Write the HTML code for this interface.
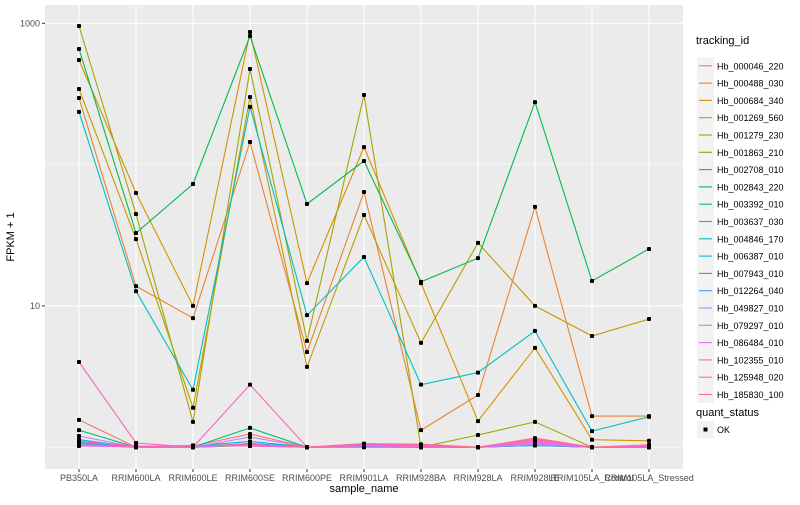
<!DOCTYPE html>
<html><head><meta charset="utf-8"><style>
body{margin:0;background:#fff;}
svg text{font-family:"Liberation Sans",sans-serif;}
</style></head><body>
<svg id="chart" width="800" height="500" xmlns="http://www.w3.org/2000/svg">
<rect x="0" y="0" width="800" height="500" fill="#fff"/>
<rect x="45" y="5" width="638" height="464" fill="#ebebeb"/>
<g id="grid"></g>
<g id="series"></g>
<g id="axes"></g>
<text x="14" y="237" font-size="11" fill="#000" text-anchor="middle" transform="rotate(-90 14 237)">FPKM + 1</text>
<text x="364" y="492" font-size="11" fill="#000" text-anchor="middle">sample_name</text>
<g id="legend"></g>
</svg>
<script>
const categories = ["PB350LA","RRIM600LA","RRIM600LE","RRIM600SE","RRIM600PE","RRIM901LA","RRIM928BA","RRIM928LA","RRIM928LE","RRIM105LA_Control","RRIM105LA_Stressed"];
const seriesNames = ["Hb_000046_220","Hb_000488_030","Hb_000684_340","Hb_001269_560","Hb_001279_230","Hb_001863_210","Hb_002708_010","Hb_002843_220","Hb_003392_010","Hb_003637_030","Hb_004846_170","Hb_006387_010","Hb_007943_010","Hb_012264_040","Hb_049827_010","Hb_079297_010","Hb_086484_010","Hb_102355_010","Hb_125948_020","Hb_185830_100"];
const seriesColors = ["#F8766D","#EA8331","#D89000","#C09B00","#A3A500","#7CAE00","#39B600","#00BB4E","#00BF7D","#00C1A3","#00BFC4","#00BAE0","#00B0F6","#35A2FF","#9590FF","#C77CFF","#E76BF3","#FA62DB","#FF62BC","#FF6C91"];
const s000046 = [1.56,1.0,1.02,1.24,1.0,1.05,1.04,1.0,1.14,1.0,1.02];
const s000488 = [296,13.8,8.2,144.5,4.72,64,1.32,2.34,50.2,1.66,1.66];
const s000684 = [550,63,10,867,14.5,133,14.5,1.53,5.05,1.13,1.11];
const s001269 = [343,29.7,1.90,301,3.70,44,5.47,27.9,10,6.12,8.07];
const s001279 = [957,44.7,1.51,475,5.65,311,1.0,1.22,1.51,1.0,1.0];
const s001863 = [1.05,1.0,1.0,1.04,1.0,1.02,1.0,1.0,1.04,1.0,1.0];
const s002708 = [1.04,1.0,1.0,1.03,1.0,1.01,1.0,1.0,1.03,1.0,1.0];
const s002843 = [658,32.8,72.9,813,52.6,106,14.8,21.8,277,15.0,25.3];
const s003392 = [1.32,1.0,1.0,1.37,1.0,1.0,1.0,1.0,1.03,1.0,1.0];
const s003637 = [1.08,1.0,1.0,1.06,1.0,1.02,1.0,1.0,1.05,1.0,1.0];
const s004846 = [236,12.7,2.55,256,8.6,22.2,2.77,3.37,6.65,1.30,1.64];
const s006387 = [1.1,1.0,1.01,1.06,1.0,1.03,1.0,1.0,1.04,1.0,1.0];
const s007943 = [1.13,1.0,1.02,1.1,1.0,1.02,1.0,1.0,1.05,1.0,1.0];
const s012264 = [1.07,1.0,1.0,1.05,1.0,1.01,1.0,1.0,1.03,1.0,1.0];
const s049827 = [1.05,1.0,1.0,1.04,1.0,1.0,1.0,1.0,1.04,1.0,1.0];
const s079297 = [1.2,1.0,1.0,1.18,1.0,1.02,1.0,1.0,1.06,1.0,1.0];
const s086484 = [1.03,1.0,1.02,1.02,1.0,1.04,1.0,1.0,1.08,1.0,1.01];
const s102355 = [1.02,1.01,1.03,1.02,1.0,1.05,1.02,1.0,1.1,1.0,1.02];
const s125948 = [4.01,1.07,1.0,2.77,1.0,1.03,1.02,1.0,1.12,1.0,1.0];
const s185830 = [1.1,1.02,1.02,1.05,1.0,1.06,1.05,1.0,1.16,1.0,1.04];
const seriesValues = [s000046,s000488,s000684,s001269,s001279,s001863,s002708,s002843,s003392,s003637,s004846,s006387,s007943,s012264,s049827,s079297,s086484,s102355,s125948,s185830];
const yTickValues = [10,1000];
const yTickLabels = ["10","1000"];
const yMinorValues = [1,100];

const NS="http://www.w3.org/2000/svg";
const PL=45,PR=683,PT=5,PB=469;
function xPos(i){return 79+57*i;}
function yPos(v){return 23.3+(3-Math.log10(v))*141.3;}
function mk(tag,attrs,parent){const e=document.createElementNS(NS,tag);for(const k in attrs)e.setAttribute(k,attrs[k]);parent.appendChild(e);return e;}
const grid=document.getElementById('grid'),ser=document.getElementById('series'),ax=document.getElementById('axes'),leg=document.getElementById('legend');
yMinorValues.forEach(v=>{const l=mk('line',{x1:PL,x2:PR,y1:yPos(v),y2:yPos(v),stroke:'#fff','stroke-width':0.5},grid);

});
yTickValues.forEach((v,i)=>{const y=yPos(v);
const l=mk('line',{x1:PL,x2:PR,y1:y,y2:y,stroke:'#fff','stroke-width':1.1},grid);


const t=mk('line',{x1:42,x2:45,y1:y,y2:y,stroke:'#333','stroke-width':1},ax);


const tx=mk('text',{x:40,y:y+3,'font-size':9,fill:'#4d4d4d','text-anchor':'end'},ax);tx.textContent=yTickLabels[i];

});
categories.forEach((c,i)=>{const x=xPos(i);
const l=mk('line',{x1:x,x2:x,y1:PT,y2:PB,stroke:'#fff','stroke-width':1.1},grid);


const t=mk('line',{x1:x,x2:x,y1:PB,y2:PB+3,stroke:'#333','stroke-width':1},ax);


const tx=mk('text',{x:x,y:481,'font-size':9,fill:'#4d4d4d','text-anchor':'middle'},ax);tx.textContent=c;

});
seriesValues.forEach((vals,si)=>{
const g=mk('g',{},ser);


const pts=vals.map((v,i)=>xPos(i)+','+yPos(v).toFixed(1)).join(' ');
const pl=mk('polyline',{points:pts,fill:'none',stroke:seriesColors[si],'stroke-width':1.1},g);

});
seriesValues.forEach((vals,si)=>{vals.forEach((v,i)=>{
const p=mk('rect',{x:xPos(i)-2,y:yPos(v)-2,width:4,height:4,rx:1,fill:'#000'},ser);

});});
// legend
const lt=mk('text',{x:696,y:44,'font-size':11,fill:'#000'},leg);lt.textContent='tracking_id';


seriesNames.forEach((n,i)=>{const y=57.3+17.3*i;
const g=mk('g',{},leg);


mk('rect',{x:697,y:y,width:17,height:17,fill:'#f2f2f2'},g);
mk('line',{x1:699,x2:712,y1:y+8.5,y2:y+8.5,stroke:seriesColors[i],'stroke-width':1.1},g);
const t=mk('text',{x:717,y:y+12,'font-size':9,fill:'#000'},g);t.textContent=n;});
const qt=mk('text',{x:696,y:416,'font-size':11,fill:'#000'},leg);qt.textContent='quant_status';


const qg=mk('g',{},leg);


mk('rect',{x:697,y:421,width:17,height:17,fill:'#f2f2f2'},qg);
mk('rect',{x:703.5,y:427.5,width:4,height:4,fill:'#000'},qg);
const ok=mk('text',{x:717,y:433,'font-size':9,fill:'#000'},qg);ok.textContent='OK';
</script>
</body></html>
